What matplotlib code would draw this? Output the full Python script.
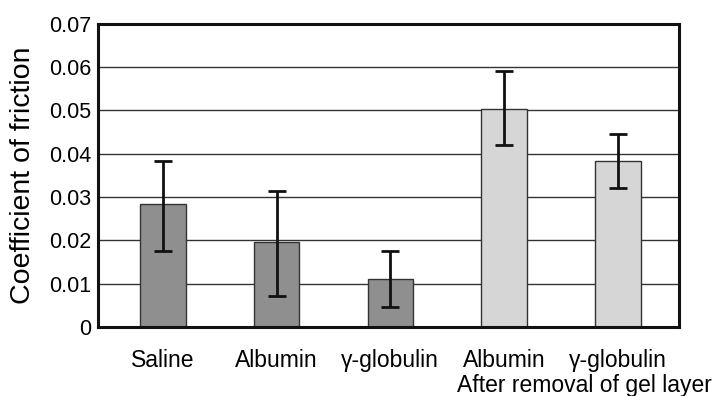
import matplotlib
matplotlib.use("Agg")
import matplotlib.pyplot as plt
import numpy as np

plt.rcParams["font.family"] = ["Liberation Sans", "DejaVu Sans"]

categories = ["Saline", "Albumin", "\u03b3-globulin", "Albumin", "\u03b3-globulin"]
means = [0.0285, 0.0196, 0.0110, 0.0503, 0.0383]
err_low = [0.0176, 0.0072, 0.0047, 0.0421, 0.0322]
err_high = [0.0384, 0.0314, 0.0175, 0.0591, 0.0446]
gel_removed = [False, False, False, True, True]
yticks = [0, 0.01, 0.02, 0.03, 0.04, 0.05, 0.06, 0.07]
ytick_labels = ["0", "0.01", "0.02", "0.03", "0.04", "0.05", "0.06", "0.07"]

fig = plt.figure(figsize=(7.15, 3.96), dpi=100)
ax = fig.add_axes([0.137, 0.174, 0.813, 0.766])

x = np.arange(len(categories))
colors = ["#d6d6d6" if g else "#8f8f8f" for g in gel_removed]
yerr = [np.array(means) - np.array(err_low), np.array(err_high) - np.array(means)]

ax.bar(x, means, width=0.40, color=colors, edgecolor="#333333", linewidth=1.0, zorder=2)
ax.errorbar(x, means, yerr=yerr, fmt="none", ecolor="#111111", elinewidth=2.0,
            capsize=6.2, capthick=2.0, zorder=3)

ax.set_xlim(-0.57, 4.54)
ax.set_ylim(0, 0.07)
ax.set_yticks(yticks)
ax.set_yticklabels(ytick_labels)
ax.set_xticks(x)
ax.set_xticklabels(categories)
ax.yaxis.grid(True, color="#333333", linewidth=1.0, zorder=1)
ax.set_axisbelow(True)

ax.tick_params(axis="y", length=0, pad=5, labelsize=15.5)
ax.tick_params(axis="x", length=0, pad=16, labelsize=16.5)
for spine in ax.spines.values():
    spine.set_linewidth(2.2)
    spine.set_color("#111111")

ax.set_ylabel("Coefficient of friction", fontsize=20.5)
ax.yaxis.set_label_coords(-0.107, 0.5)

# second line under the last two categories
fig.text(0.996, 0.026, "After removal of gel layer", ha="right", va="center",
         fontsize=16.5)

fig.savefig("out.png", dpi=100, facecolor="white")
